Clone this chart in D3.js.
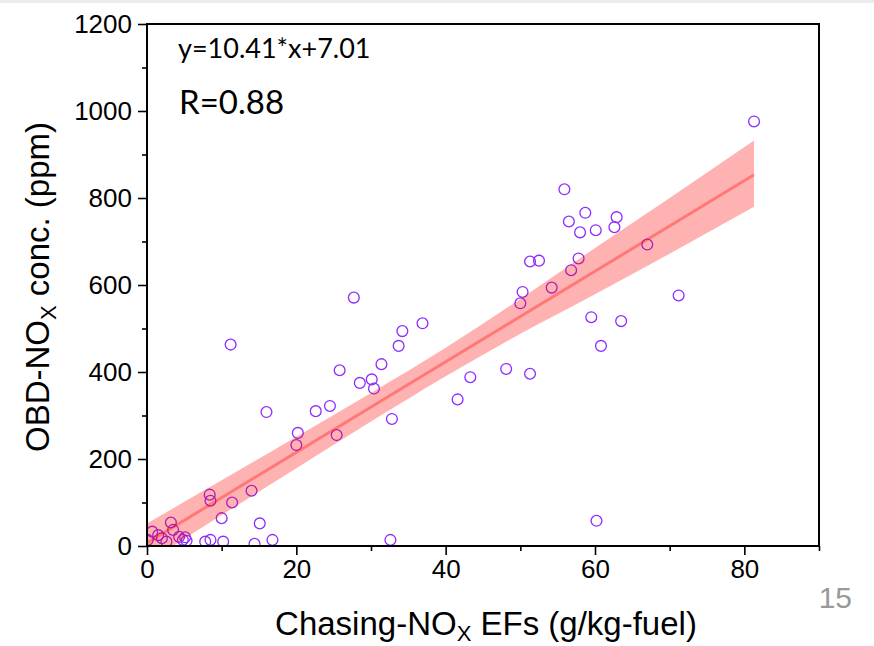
<!DOCTYPE html>
<html><head><meta charset="utf-8">
<script src="https://cdn.jsdelivr.net/npm/d3@7/dist/d3.min.js"></script>
<style>html,body{margin:0;padding:0;background:#fff;}svg{display:block;}</style>
</head><body>
<script>
// ---- data ----
const xVals = [0.1,0.7,1.5,2.0,2.6,3.2,3.5,4.3,4.8,5.1,5.3,
  7.8,8.5,10.2,14.4,16.8,32.6,60.2,15.1,
  8.4,8.5,11.4,10.0,14.0,
  11.2,16.0,27.7,20.2,20.0,22.6,24.5,25.4,25.8,28.5,30.1,30.4,31.4,32.8,33.7,34.2,36.9,41.6,
  55.9,58.7,56.5,58.0,60.1,62.9,62.6,67.0,51.3,52.5,57.8,56.8,50.3,50.0,54.2,71.2,59.5,63.5,60.8,43.3,48.1,51.3,81.3];
const yVals = [14,33,25,18,10,54,37,21,14,20,12,
  10,14,10,5,14,14,58,52,
  118,104,100,64,127,
  463,308,571,260,232,310,322,255,404,375,383,362,418,292,460,494,512,337,
  820,766,746,721,726,756,733,693,654,656,661,634,584,558,594,576,526,517,460,388,407,396,976];
const bandX     = [0, 10, 20, 30, 40, 50, 60, 70, 81.3];
const bandUpper = [52, 151, 251, 352, 456, 568, 685, 800, 932];
const bandLower = [-38, 71, 179, 286, 390, 488, 579, 672, 780];
const slope = 10.41, intercept = 7.01, rValue = 0.88;
const fitRange = [0, 81.3];
const xTicks = [0, 20, 40, 60, 80];
const xMinor = [10, 30, 50, 70, 90];
const yTicks = [0, 200, 400, 600, 800, 1000, 1200];
const yMinor = [100, 300, 500, 700, 900, 1100];
const pageNumber = "15";

// ---- layout ----
const W = 874, H = 646;
const L = 147, R = 819, T = 24, B = 546;
const svg = d3.select("body").append("svg").attr("width", W).attr("height", H);
svg.append("rect").attr("x",0).attr("y",0).attr("width",W).attr("height",3).attr("fill","#ececec");

const x = d3.scaleLinear().domain([0, 90]).range([L, R]);
const y = d3.scaleLinear().domain([0, 1200]).range([B, T]);

svg.append("defs").append("clipPath").attr("id","plotclip")
  .append("rect").attr("x",L).attr("y",T).attr("width",R-L).attr("height",B-T);

const font = "'Liberation Sans', Arial, sans-serif";

// points
const pts = xVals.map((v,i)=>({x:v,y:yVals[i]}));
svg.append("g").attr("clip-path","url(#plotclip)").selectAll("circle").data(pts).join("circle")
  .attr("cx", d=>x(d.x)).attr("cy", d=>y(d.y)).attr("r", 5.4)
  .attr("fill","none").attr("stroke","#8c2cff").attr("stroke-width",1.3);

// confidence band
const band = bandX.map((v,i)=>({x:v,u:bandUpper[i],l:bandLower[i]}));
const g2 = svg.append("g").attr("clip-path","url(#plotclip)");
g2.append("path").datum(band)
  .attr("d", d3.area().x(d=>x(d.x)).y0(d=>y(d.l)).y1(d=>y(d.u)).curve(d3.curveMonotoneX))
  .attr("fill","#ff0000").attr("fill-opacity",0.3);
g2.append("path").datum(fitRange.map(v=>({x:v,y:slope*v+intercept})))
  .attr("d", d3.line().x(d=>x(d.x)).y(d=>y(d.y)))
  .attr("stroke","#ff0000").attr("stroke-opacity",0.32).attr("stroke-width",3).attr("fill","none");

// axes
const xAxis = d3.axisBottom(x).tickValues(xTicks).tickSize(9).tickPadding(5).tickFormat(d3.format("d"));
const gx = svg.append("g").attr("transform",`translate(0,${B})`).call(xAxis);
const yAxis = d3.axisLeft(y).tickValues(yTicks).tickSize(9).tickPadding(6).tickFormat(d3.format("d"));
const gy = svg.append("g").attr("transform",`translate(${L},0)`).call(yAxis);
svg.append("g").attr("transform",`translate(0,${B})`).call(d3.axisBottom(x).tickValues(xMinor).tickSize(5).tickFormat(""));
svg.append("g").attr("transform",`translate(${L},0)`).call(d3.axisLeft(y).tickValues(yMinor).tickSize(5).tickFormat(""));
svg.selectAll(".domain").remove();
svg.selectAll(".tick line").attr("stroke","#000").attr("stroke-width",1.6);
[gx, gy].forEach(g=>g.selectAll("text").attr("font-family",font).attr("font-size",26).attr("fill","#000"));

// frame
svg.append("rect").attr("x",L).attr("y",T).attr("width",R-L).attr("height",B-T)
  .attr("fill","none").attr("stroke","#000").attr("stroke-width",2);

// annotations
svg.append("text").attr("x",178).attr("y",58).attr("font-family","Lato, 'Noto Sans', sans-serif")
  .attr("font-size",27).text(`y=${slope}*x+${intercept}`);
svg.append("text").attr("x",179).attr("y",114).attr("font-family","Lato, 'Noto Sans', sans-serif")
  .attr("font-size",33).text(`R=${rValue}`);

// axis titles
const xt = svg.append("text").attr("x",(L+R)/2 + 3).attr("y",635).attr("text-anchor","middle")
  .attr("font-family",font).attr("font-size",33);
xt.append("tspan").text("Chasing-NO");
xt.append("tspan").attr("font-size",22).attr("dy",6).text("X");
xt.append("tspan").attr("dy",-6).text(" EFs (g/kg-fuel)");

const yt = svg.append("text").attr("transform",`translate(49,287) rotate(-90)`).attr("text-anchor","middle")
  .attr("font-family",font).attr("font-size",33);
yt.append("tspan").text("OBD-NO");
yt.append("tspan").attr("font-size",22).attr("dy",7).text("X");
yt.append("tspan").attr("dy",-7).text(" conc. (ppm)");

svg.append("text").attr("x",852).attr("y",608).attr("text-anchor","end")
  .attr("font-family",font).attr("font-size",30).attr("fill","#999").text(pageNumber);
</script>
</body></html>
